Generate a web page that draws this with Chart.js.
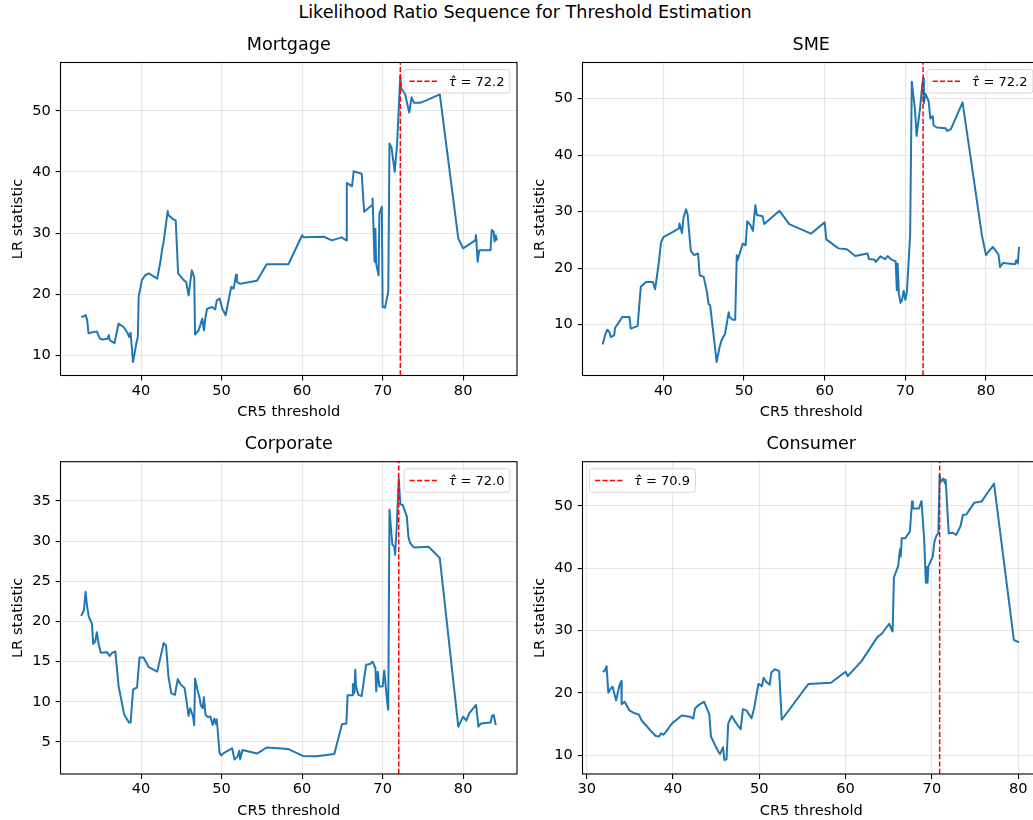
<!DOCTYPE html>
<html>
<head>
<meta charset="utf-8">
<script src="https://cdn.jsdelivr.net/npm/chart.js@4.4.1/dist/chart.umd.min.js"></script>
<style>
    html, body { margin: 0; padding: 0; background: #fff; overflow: hidden; }
    body { width: 1033px; height: 820px; position: relative; font-family: "DejaVu Sans", sans-serif; }
    #suptitle {
        position: absolute; left: 0; top: 2px; width: 1050px;
        text-align: center; font-size: 17.6px; line-height: 20px; color: #000;
    }
    canvas { position: absolute; }
</style>
</head>
<body>
<div id="suptitle">Likelihood Ratio Sequence for Threshold Estimation</div>
<canvas id="mortgageChart"></canvas>
<canvas id="smeChart"></canvas>
<canvas id="corporateChart"></canvas>
<canvas id="consumerChart"></canvas>
<script>
// ==================== DATA ====================

// Mortgage: CR5 threshold vs LR statistic
const mortgageX = [32.56, 32.97, 33.1, 33.3, 33.47, 33.7, 34.1, 34.5, 34.9, 35.2,
    35.8, 36.0, 36.1, 36.7, 37.2, 37.85, 38.3, 38.5, 38.7, 39.0,
    39.4, 39.6, 39.7, 40.1, 40.5, 40.95, 42.0, 42.4, 42.6, 42.8,
    43.3, 43.4, 44.05, 44.3, 44.6, 45.3, 45.6, 45.9, 46.3, 46.6,
    46.7, 47.15, 47.6, 47.8, 48.0, 48.2, 48.8, 49.2, 49.4, 49.75,
    50.1, 50.5, 51.2, 51.5, 51.8, 51.9, 52.3, 54.4, 55.6, 58.3,
    60.0, 60.2, 62.7, 63.7, 64.9, 65.5, 65.55, 66.2, 66.4, 67.4,
    67.7, 68.7, 68.75, 69.0, 69.1, 69.2, 69.5, 69.6, 69.9, 70.0,
    70.3, 70.7, 70.85, 71.1, 71.5, 71.8, 72.2, 72.3, 72.8, 73.3,
    73.6, 73.9, 74.65, 75.5, 77.1, 79.4, 80.0, 81.5, 81.6, 81.8,
    82.0, 83.4, 83.55, 83.8, 83.9, 84.05, 84.2];
const mortgageLR = [16.3, 16.4, 16.6, 15.8, 13.6, 13.7, 13.8, 13.9, 12.7, 12.6,
    12.7, 13.3, 12.5, 12.0, 15.2, 14.6, 13.7, 13.0, 13.7, 8.9,
    11.9, 13.1, 19.6, 22.3, 23.1, 23.4, 22.55, 25.3, 27.2, 28.55,
    33.6, 32.9, 32.2, 32.1, 23.4, 22.3, 22.0, 19.8, 23.9, 22.8,
    13.4, 14.1, 16.0, 14.1, 16.3, 17.6, 17.9, 17.5, 19.0, 19.3,
    17.6, 16.55, 21.2, 20.9, 23.2, 22.0, 21.7, 22.2, 24.9, 24.9,
    29.65, 29.3, 29.4, 28.8, 29.3, 28.8, 38.2, 37.65, 40.1, 39.7,
    33.5, 34.6, 35.65, 25.3, 30.7, 25.0, 23.1, 33.2, 34.3, 17.9,
    17.8, 20.4, 44.65, 44.0, 40.0, 44.65, 55.8, 53.7, 52.7, 49.7,
    52.2, 51.3, 51.3, 51.75, 52.7, 29.1, 27.5, 28.8, 29.65, 25.3,
    27.2, 27.2, 30.5, 30.2, 28.6, 29.6, 28.8];

// SME
const smeX = [32.47, 32.76, 33.05, 33.3, 33.5, 33.9, 34.0, 34.5, 34.9, 35.8,
    35.95, 36.8, 37.2, 37.85, 38.7, 38.97, 39.4, 39.7, 40.0, 40.8,
    41.9, 42.0, 42.3, 42.5, 42.8, 43.0, 43.4, 43.8, 44.3, 44.5,
    45.0, 45.4, 45.6, 45.8, 46.3, 46.6, 46.95, 47.2, 47.65, 48.1,
    48.2, 48.6, 48.9, 49.1, 49.2, 49.85, 50.2, 50.4, 50.8, 51.1,
    51.4, 51.6, 52.3, 52.5, 54.4, 55.6, 58.3, 60.0, 60.2, 61.7,
    62.75, 63.8, 65.3, 65.5, 66.2, 66.35, 66.9, 67.5, 67.8, 68.3,
    68.8, 68.95, 69.05, 69.2, 69.4, 69.6, 69.8, 70.0, 70.2, 70.6,
    70.8, 71.2, 71.4, 71.85, 72.05, 72.2, 72.3, 72.5, 72.7, 72.9,
    73.1, 73.4, 73.5, 73.9, 75.0, 75.2, 75.65, 77.1, 79.5, 80.0,
    80.3, 80.85, 81.55, 81.75, 82.1, 83.0, 83.6, 83.75, 83.95, 84.1];
const smeLR = [6.5, 8.1, 9.1, 8.7, 7.8, 8.1, 9.4, 10.45, 11.35, 11.35,
    9.3, 9.75, 16.7, 17.55, 17.55, 16.25, 20.6, 24.5, 25.5, 26.1,
    27.0, 27.9, 26.2, 28.95, 30.4, 29.55, 23.05, 22.3, 22.6, 18.75,
    18.45, 15.8, 13.7, 13.4, 7.2, 3.4, 5.9, 7.2, 8.4, 12.2,
    11.35, 10.85, 10.85, 22.3, 21.4, 24.35, 24.05, 28.3, 27.6, 26.6,
    31.15, 29.4, 29.2, 27.8, 30.15, 27.8, 26.1, 28.1, 25.1, 23.5,
    23.35, 22.15, 22.6, 21.6, 21.5, 21.1, 22.1, 21.6, 22.15, 21.5,
    21.2, 16.1, 20.8, 15.5, 13.85, 14.4, 16.0, 14.4, 15.8, 26.1,
    53.0, 48.0, 43.4, 48.6, 51.8, 53.6, 49.2, 50.9, 50.2, 49.5,
    46.5, 46.9, 45.3, 44.9, 44.75, 44.3, 44.6, 49.35, 25.8, 22.3,
    22.9, 23.75, 22.45, 20.2, 20.9, 20.8, 20.7, 21.4, 20.8, 23.75];

// Corporate
const corporateX = [32.56, 32.9, 33.1, 33.3, 33.5, 33.9, 34.05, 34.3, 34.5, 34.75,
    35.0, 35.8, 36.1, 36.4, 36.8, 37.2, 37.9, 38.5, 38.7, 39.0,
    39.5, 39.8, 40.3, 40.95, 42.0, 42.8, 43.1, 43.4, 43.75, 44.2,
    44.55, 44.9, 45.4, 45.6, 45.9, 46.1, 46.45, 46.6, 46.7, 47.0,
    47.3, 47.4, 47.65, 47.8, 48.0, 48.3, 48.6, 48.9, 49.1, 49.3,
    49.4, 49.75, 49.95, 50.25, 51.3, 51.6, 52.0, 52.2, 52.3, 52.6,
    54.4, 55.6, 58.3, 60.1, 61.8, 64.0, 64.95, 65.5, 65.65, 66.2,
    66.3, 66.5, 66.6, 66.7, 67.0, 67.4, 67.95, 68.45, 68.75, 69.1,
    69.2, 69.4, 69.6, 70.0, 70.2, 70.6, 70.7, 70.85, 71.2, 71.45,
    71.55, 71.75, 72.0, 72.2, 72.5, 73.0, 73.2, 73.4, 73.9, 75.7,
    77.1, 79.4, 80.0, 80.4, 80.75, 81.6, 81.9, 82.2, 83.4, 83.6,
    83.8, 84.05];
const corporateLR = [20.7, 21.4, 23.7, 21.85, 20.6, 19.7, 17.2, 17.5, 18.65, 17.1,
    16.1, 16.15, 15.7, 16.1, 16.25, 12.0, 8.4, 7.4, 7.4, 11.5,
    11.8, 15.5, 15.5, 14.3, 13.75, 17.3, 17.0, 13.1, 11.05, 10.85,
    12.8, 12.2, 11.7, 10.4, 8.25, 9.2, 8.15, 7.1, 12.9, 11.5,
    10.3, 9.6, 9.2, 10.55, 8.35, 8.1, 8.15, 7.1, 7.9, 7.2,
    7.8, 3.6, 3.3, 3.6, 4.2, 2.8, 3.2, 3.9, 2.85, 4.0,
    3.55, 4.3, 4.1, 3.25, 3.2, 3.5, 7.2, 7.3, 10.8, 10.8,
    12.2, 11.1, 14.0, 11.9, 10.85, 10.7, 14.6, 14.7, 15.0, 14.2,
    11.3, 13.75, 11.9, 11.9, 13.9, 9.6, 9.0, 33.9, 29.6, 29.3,
    28.3, 31.8, 37.8, 34.6, 34.5, 33.1, 30.55, 29.8, 29.2, 29.3,
    27.9, 6.9, 8.15, 7.65, 8.55, 9.6, 6.9, 7.3, 7.4, 8.25,
    8.35, 7.1];

// Consumer
const consumerX = [31.85, 32.1, 32.3, 32.5, 32.8, 33.0, 33.4, 33.8, 34.0, 34.05,
    34.4, 34.95, 35.4, 36.05, 36.4, 36.95, 37.3, 38.0, 38.4, 38.6,
    38.9, 39.2, 39.65, 39.95, 40.4, 41.0, 41.95, 42.35, 42.55, 43.0,
    43.6, 44.2, 44.4, 44.95, 45.25, 45.45, 45.8, 45.95, 46.2, 46.4,
    46.8, 47.2, 47.45, 47.85, 48.1, 48.5, 49.1, 49.4, 49.9, 50.3,
    50.5, 50.8, 51.2, 51.4, 51.8, 52.3, 52.6, 55.7, 58.3, 60.0,
    60.25, 61.85, 63.7, 64.2, 65.05, 65.45, 65.6, 66.1, 66.3, 66.4,
    66.5, 66.9, 67.45, 67.7, 67.8, 68.5, 68.8, 69.1, 69.3, 69.4,
    69.5, 69.6, 70.1, 70.3, 70.55, 70.75, 70.9, 71.05, 71.35, 71.5,
    71.6, 71.95, 72.4, 72.8, 73.3, 73.6, 74.0, 74.9, 75.75, 77.2,
    79.5, 80.1];
const consumerLR = [23.4, 23.6, 24.3, 20.05, 20.75, 21.0, 18.8, 21.3, 21.9, 18.2,
    18.6, 17.2, 16.85, 16.5, 15.5, 14.7, 14.1, 13.1, 13.0, 13.5,
    13.3, 13.8, 14.7, 15.2, 15.7, 16.4, 16.2, 15.9, 17.5, 18.1,
    18.6, 16.6, 13.0, 11.4, 10.6, 10.2, 11.3, 9.25, 9.35, 15.1,
    16.3, 15.4, 14.9, 14.2, 17.4, 17.2, 15.95, 17.55, 21.45, 21.1,
    22.45, 21.8, 21.3, 23.3, 23.8, 23.5, 15.7, 21.45, 21.65, 23.4,
    22.7, 25.1, 29.0, 29.5, 31.1, 29.85, 38.55, 40.4, 43.05, 41.9,
    44.8, 44.8, 45.9, 50.7, 49.6, 49.6, 50.8, 44.8, 37.7, 40.2,
    37.7, 40.3, 41.9, 44.3, 45.3, 45.6, 55.0, 53.9, 54.4, 53.6,
    54.2, 45.6, 45.7, 45.35, 46.7, 48.55, 48.65, 50.5, 50.7, 53.6,
    28.5, 28.1];

// Estimated thresholds (tau hat), one per sector
const sectorNames = ['Mortgage', 'SME', 'Corporate', 'Consumer'];
const tauHat = [72.2, 72.2, 72.0, 70.9];

// Tick labels
const xTicksMain = [40, 50, 60, 70, 80];
const xTicksConsumer = [30, 40, 50, 60, 70, 80];
const yTicksTens = [10, 20, 30, 40, 50];
const yTicksFives = [5, 10, 15, 20, 25, 30, 35];

// ==================== LAYOUT ====================

const FONT = 'DejaVu Sans';
const BLUE = '#1f77b4';
const GRID = 'rgba(176, 176, 176, 0.3)';
const LABEL_SIZE = 14.6;
const TITLE_SIZE = 17.6;

const panels = [
    { id: 'mortgageChart', x: mortgageX, y: mortgageLR, xTicks: xTicksMain, yTicks: yTicksTens,
      xRange: [29.99, 86.69], yRange: [6.7, 57.9], legend: 'right',
      plot: { left: 60.5, top: 62.5, right: 517, bottom: 375.5 } },
    { id: 'smeChart', x: smeX, y: smeLR, xTicks: xTicksMain, yTicks: yTicksTens,
      xRange: [29.97, 86.7], yRange: [1.0, 56.4], legend: 'right',
      plot: { left: 582.5, top: 62.5, right: 1040, bottom: 375.5 } },
    { id: 'corporateChart', x: corporateX, y: corporateLR, xTicks: xTicksMain, yTicks: yTicksFives,
      xRange: [29.99, 86.69], yRange: [1.0, 39.9], legend: 'right',
      plot: { left: 60.5, top: 461.7, right: 517, bottom: 774 } },
    { id: 'consumerChart', x: consumerX, y: consumerLR, xTicks: xTicksConsumer, yTicks: yTicksTens,
      xRange: [29.51, 82.53], yRange: [7.0, 57.1], legend: 'left',
      plot: { left: 582.5, top: 461.7, right: 1040, bottom: 774 } }
];

// Frame, subplot title and the tau legend, drawn over the data like matplotlib does
const frameLegendPlugin = {
    id: 'frameLegend',
    afterDatasetsDraw(chart, args, opts) {
        const { ctx, chartArea: a } = chart;
        ctx.save();

        ctx.strokeStyle = '#000';
        ctx.lineWidth = 1.1;
        ctx.setLineDash([]);
        ctx.strokeRect(a.left, a.top, a.right - a.left, a.bottom - a.top);

        ctx.fillStyle = '#000';
        ctx.font = `${TITLE_SIZE}px "${FONT}"`;
        ctx.textAlign = 'center';
        ctx.textBaseline = 'alphabetic';
        ctx.fillText(opts.title, (a.left + a.right) / 2, a.top - 12.8);

        // legend box
        const fs = 13.9;
        const tauText = '\u03C4\u0302';
        const restText = ' = ' + opts.tau.toFixed(1);
        ctx.font = `italic 13px "${FONT}"`;
        const w1 = ctx.measureText(tauText).width;
        ctx.font = `13px "${FONT}"`;
        const w2 = ctx.measureText(restText).width;
        const boxW = 0.4 * fs + 2 * fs + 0.8 * fs + w1 + w2 + 0.4 * fs;
        const boxH = 23.5;
        const bx = opts.corner === 'left' ? a.left + 7 : a.right - 7 - boxW;
        const by = a.top + 7;

        ctx.beginPath();
        ctx.roundRect(bx, by, boxW, boxH, 2.8);
        ctx.fillStyle = 'rgba(255, 255, 255, 0.8)';
        ctx.fill();
        ctx.strokeStyle = 'rgba(204, 204, 204, 0.8)';
        ctx.lineWidth = 1;
        ctx.stroke();

        const cy = by + boxH / 2;
        ctx.beginPath();
        ctx.strokeStyle = 'red';
        ctx.lineWidth = 1.5;
        ctx.setLineDash([5.2, 2.2]);
        ctx.moveTo(bx + 0.4 * fs, cy);
        ctx.lineTo(bx + 2.4 * fs, cy);
        ctx.stroke();
        ctx.setLineDash([]);

        const tx = bx + 3.2 * fs;
        ctx.fillStyle = '#000';
        ctx.textAlign = 'left';
        ctx.textBaseline = 'middle';
        ctx.font = `italic 13px "${FONT}"`;
        ctx.fillText(tauText, tx, cy + 1);
        ctx.font = `13px "${FONT}"`;
        ctx.fillText(restText, tx + w1, cy + 1);

        ctx.restore();
    }
};

// Create one threshold chart
function createThresholdChart(panel, index) {
    const canvas = document.getElementById(panel.id);
    const p = panel.plot;
    const canvasLeft = Math.floor(p.left - 60);
    const canvasTop = Math.floor(p.top - 30);
    const width = Math.ceil(p.right - canvasLeft + 12);
    const height = Math.ceil(p.bottom - canvasTop + 54.5);

    canvas.width = width;
    canvas.height = height;
    canvas.style.left = canvasLeft + 'px';
    canvas.style.top = canvasTop + 'px';
    canvas.style.width = width + 'px';
    canvas.style.height = height + 'px';

    const yAxisWidth = p.left - canvasLeft;
    const xAxisHeight = height - (p.bottom - canvasTop);
    const titleHalf = LABEL_SIZE * 1.2 / 2;
    const yTitlePad = (p.left - 42.5 - canvasLeft) - titleHalf;
    const xTitlePad = height - (p.bottom + 37 - canvasTop) - titleHalf;

    const tau = tauHat[index];
    const tickFont = { family: FONT, size: LABEL_SIZE };

    return new Chart(canvas.getContext('2d'), {
        type: 'line',
        data: {
            datasets: [
                {
                    label: 'tau',
                    data: [{ x: tau, y: panel.yRange[0] }, { x: tau, y: panel.yRange[1] }],
                    borderColor: 'red',
                    borderWidth: 1.5,
                    borderDash: [5.2, 2.2],
                    pointRadius: 0,
                    fill: false
                },
                {
                    label: sectorNames[index],
                    data: panel.x.map((v, i) => ({ x: v, y: panel.y[i] })),
                    borderColor: BLUE,
                    borderWidth: 2,
                    borderJoinStyle: 'round',
                    pointRadius: 0,
                    tension: 0,
                    fill: false
                }
            ]
        },
        options: {
            responsive: false,
            animation: false,
            events: [],
            layout: {
                padding: { left: 0, top: p.top - canvasTop, right: width - (p.right - canvasLeft), bottom: 0 }
            },
            plugins: {
                legend: { display: false },
                tooltip: { enabled: false },
                frameLegend: { title: sectorNames[index], tau: tau, corner: panel.legend }
            },
            scales: {
                x: {
                    type: 'linear',
                    min: panel.xRange[0],
                    max: panel.xRange[1],
                    afterBuildTicks: s => { s.ticks = panel.xTicks.map(v => ({ value: v })); },
                    afterFit: s => { s.height = xAxisHeight; },
                    border: { display: false },
                    grid: { color: GRID, lineWidth: 1.1, tickColor: '#000', tickWidth: 1.1, tickLength: 4.9 },
                    ticks: { color: '#000', font: tickFont, padding: 2, maxRotation: 0, autoSkip: false },
                    title: {
                        display: true, text: 'CR5 threshold', color: '#000',
                        font: { family: FONT, size: LABEL_SIZE, lineHeight: 1.2 },
                        padding: { top: 0, bottom: xTitlePad }
                    }
                },
                y: {
                    type: 'linear',
                    min: panel.yRange[0],
                    max: panel.yRange[1],
                    afterBuildTicks: s => { s.ticks = panel.yTicks.map(v => ({ value: v })); },
                    afterFit: s => { s.width = yAxisWidth; },
                    border: { display: false },
                    grid: { color: GRID, lineWidth: 1.1, tickColor: '#000', tickWidth: 1.1, tickLength: 4.9 },
                    ticks: { color: '#000', font: tickFont, padding: 4.9, autoSkip: false },
                    title: {
                        display: true, text: 'LR statistic', color: '#000',
                        font: { family: FONT, size: LABEL_SIZE, lineHeight: 1.2 },
                        padding: { top: yTitlePad, bottom: 0 }
                    }
                }
            }
        },
        plugins: [frameLegendPlugin]
    });
}

document.addEventListener('DOMContentLoaded', function() {
    Chart.defaults.font.family = FONT;
    panels.forEach((panel, i) => createThresholdChart(panel, i));
});
</script>
</body>
</html>
